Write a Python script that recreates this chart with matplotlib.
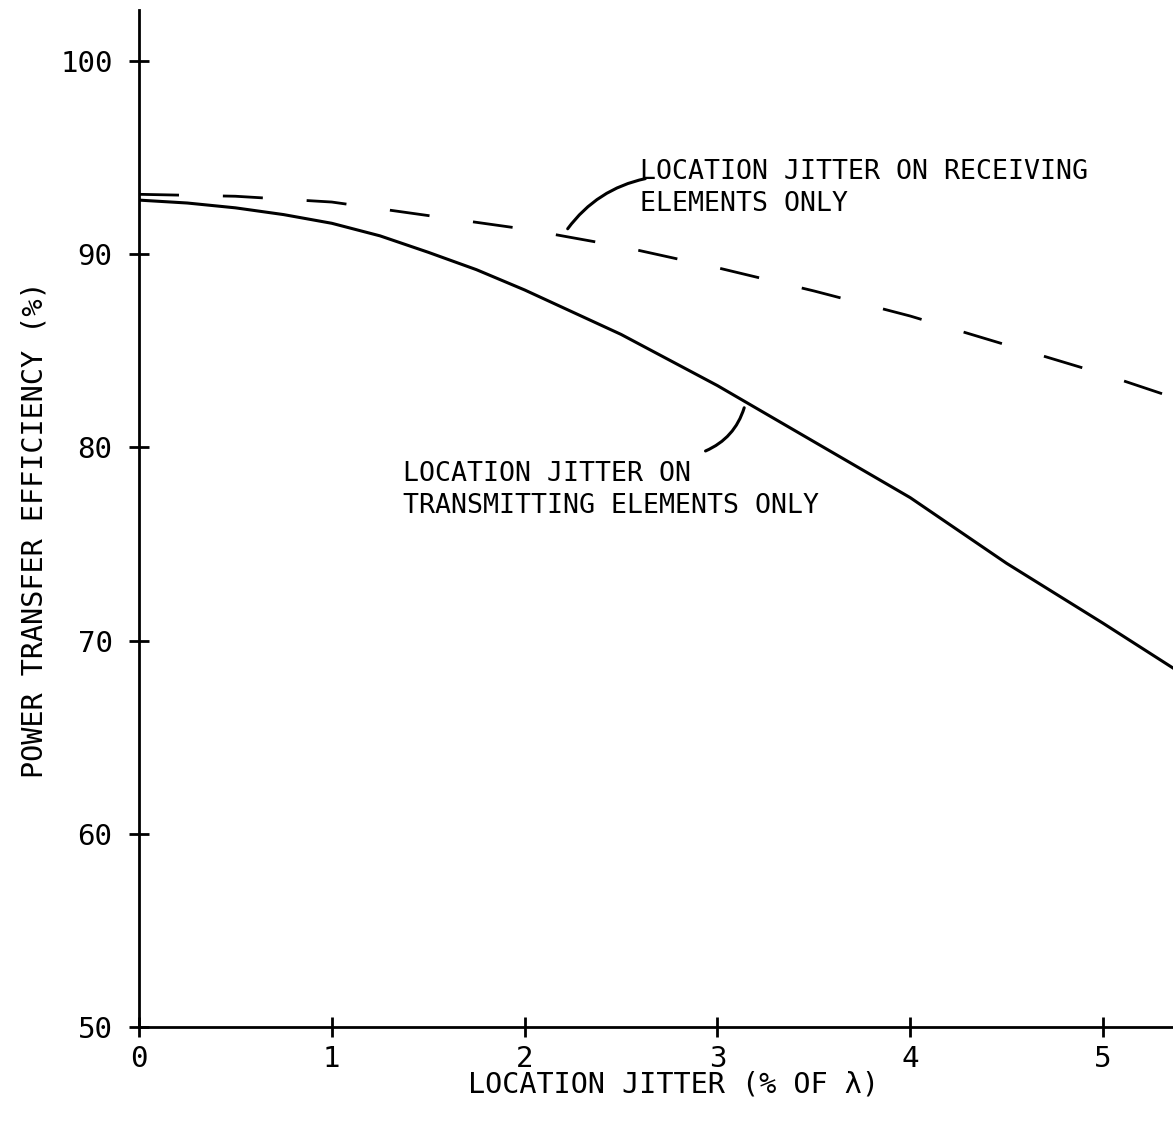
import matplotlib.pyplot as plt

# values
jitter_tx = [0, 0.25, 0.5, 0.75, 1.0, 1.25, 1.5, 1.75, 2.0, 2.25, 2.5, 3.0, 3.5, 4.0, 4.5, 5.0, 5.36]
eff_transmit = [92.8, 92.65, 92.4, 92.05, 91.6, 90.95, 90.1, 89.2, 88.15, 87.0, 85.85,
                83.2, 80.3, 77.4, 74.0, 70.9, 68.6]

jitter_rx = [0, 0.5, 1.0, 1.5, 2.0, 2.5, 3.0, 3.5, 4.0, 4.5, 5.0, 5.36]
eff_receive = [93.1, 93.0, 92.7, 92.0, 91.3, 90.4, 89.3, 88.1, 86.8, 85.3, 83.8, 82.6]

x_ticks = [0, 1, 2, 3, 4, 5]
y_ticks = [50, 60, 70, 80, 90, 100]

font = "DejaVu Sans Mono"

fig = plt.figure(figsize=(11.73, 11.25), dpi=100)
ax = fig.add_axes([139 / 1173, 1 - 1027 / 1125, (1173 - 139) / 1173, (1027 - 10) / 1125])

ax.plot(jitter_tx, eff_transmit, color="black", lw=2.2)
ax.plot(jitter_rx, eff_receive, color="black", lw=2.0, linestyle=(0, (14.4, 15.8)))

ax.set_xlim(0, 5.363)
ax.set_ylim(50, 102.64)

for side in ["top", "right"]:
    ax.spines[side].set_visible(False)
for side in ["left", "bottom"]:
    ax.spines[side].set_linewidth(2)

ax.set_xticks(x_ticks)
ax.set_yticks(y_ticks)
ax.set_xticklabels([str(t) for t in x_ticks], fontsize=21, family=font)
ax.set_yticklabels([str(t) for t in y_ticks], fontsize=21, family=font)
ax.tick_params(axis="x", direction="inout", length=14, width=2, pad=6)
ax.tick_params(axis="y", direction="inout", length=14, width=2, pad=12)

ax.set_xlabel("LOCATION JITTER (% OF λ)", fontsize=20.5, family=font)
ax.xaxis.set_label_coords(0.517, -0.043)
ax.set_ylabel("POWER TRANSFER EFFICIENCY (%)", fontsize=20.5, family=font)
ax.yaxis.set_label_coords(-0.088, 0.489)

# labels with curved leader lines
ax.text(2.60, 94.95, "LOCATION JITTER ON RECEIVING\nELEMENTS ONLY",
        ha="left", va="top", fontsize=19.2, family=font, linespacing=1.3)
ax.annotate("", xy=(2.64, 93.94), xytext=(2.215, 91.2),
            arrowprops=dict(arrowstyle="-", lw=2.2, color="black",
                            connectionstyle="arc3,rad=-0.2"))

ax.text(1.369, 79.3, "LOCATION JITTER ON\nTRANSMITTING ELEMENTS ONLY",
        ha="left", va="top", fontsize=19.2, family=font, linespacing=1.3)
ax.annotate("", xy=(2.925, 79.76), xytext=(3.143, 82.19),
            arrowprops=dict(arrowstyle="-", lw=2.2, color="black",
                            connectionstyle="arc3,rad=-0.25"))

fig.savefig("out.png", dpi=100)
